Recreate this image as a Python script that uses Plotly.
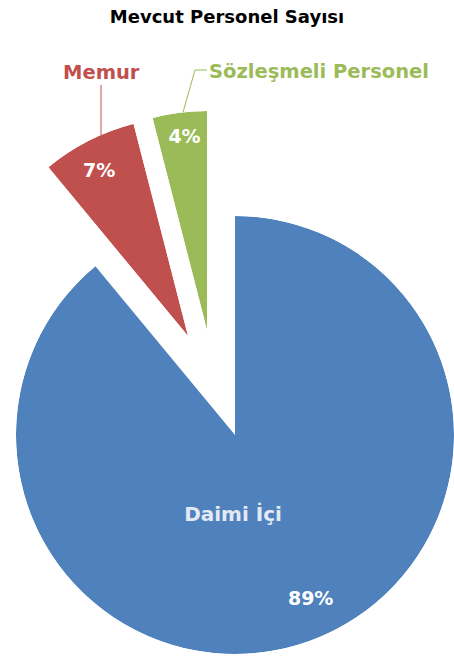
import math
import plotly.graph_objects as go

# ---------------- data ----------------
categories = ["Daimi İçi", "Memur", "Sözleşmeli Personel"]
values = [89, 7, 4]
colors = ["#4F81BD", "#C0504D", "#9BBB59"]
title_text = "Mevcut Personel Sayısı"

# ---------------- layout constants ----------------
W, H = 454, 659
R = 219                                      # slice radius in px
apex = [(235, 435), (188, 336), (207, 330)]  # exploded slice apex positions (px)
FONT = "DejaVu Sans"

total = sum(values)
spans = [v / total * 360.0 for v in values]
starts = [sum(spans[:i]) for i in range(len(values))]
mids = [s + w / 2 for s, w in zip(starts, spans)]
pct = [f"{round(v / total * 100)}%" for v in values]


def sector_bbox(s0, s1):
    """Same as plotly's computeSectorBBox (unit circle, y up)."""
    arc = s1 - s0
    a0 = s0 % 360
    a1 = a0 + arc
    ax0, ay0 = math.cos(math.radians(a0)), math.sin(math.radians(a0))
    ax1, ay1 = math.cos(math.radians(a1)), math.sin(math.radians(a1))
    if (a0 <= 90 and a1 >= 90) or (a0 > 90 and a1 >= 450):
        y1 = 1
    elif ay0 <= 0 and ay1 <= 0:
        y1 = 0
    else:
        y1 = max(ay0, ay1)
    if (a0 <= 180 and a1 >= 180) or (a0 > 180 and a1 >= 540):
        x0 = -1
    elif ax0 >= 0 and ax1 >= 0:
        x0 = 0
    else:
        x0 = min(ax0, ax1)
    if (a0 <= 270 and a1 >= 270) or (a0 > 270 and a1 >= 630):
        y0 = -1
    elif ay0 >= 0 and ay1 >= 0:
        y0 = 0
    else:
        y0 = min(ay0, ay1)
    if a1 >= 360:
        x1 = 1
    elif ax0 <= 0 and ax1 <= 0:
        x1 = 0
    else:
        x1 = max(ax0, ax1)
    return x0, y0, x1, y1


def clamp(v):
    return min(1.0, max(0.0, v))


def px(x, y):
    """pixel position -> paper coordinates"""
    return x / W, 1 - y / H


fig = go.Figure()
layout_polars = {}
names = []
for i in range(len(values)):
    name = "polar" if i == 0 else f"polar{i + 1}"
    names.append(name)
    if i == 0:
        sector = [0, 360]
    else:
        phi0 = (90 - (starts[i] + spans[i])) % 360
        sector = [phi0, phi0 + spans[i]]
    x0, y0, x1, y1 = sector_bbox(*sector)
    cx, cy = apex[i]
    left, right = cx + R * x0, cx + R * x1
    top, bottom = cy - R * y1, cy - R * y0
    layout_polars[name] = dict(
        domain=dict(x=[clamp(left / W), clamp(right / W)],
                    y=[clamp((H - bottom) / H), clamp((H - top) / H)]),
        sector=sector,
        bgcolor="rgba(0,0,0,0)",
        radialaxis=dict(visible=False, range=[0, 1]),
        angularaxis=dict(visible=False, rotation=90, direction="clockwise"),
    )
    fig.add_trace(go.Barpolar(
        r=[1], theta=[mids[i]], width=[spans[i]],
        marker=dict(color=colors[i], line=dict(width=0)),
        subplot=name, showlegend=False, name=categories[i],
        hovertemplate=f"{categories[i]}: {pct[i]}<extra></extra>",
    ))

# labels inside slices (r fraction, theta in degrees clockwise from top)
fig.add_trace(go.Scatterpolar(
    r=[0.37, 0.83], theta=[181.4, 155.4], mode="text",
    text=[categories[0], pct[0]], textposition="middle center",
    textfont=dict(family=FONT, size=[20, 19], color=["#E4EAF3", "#FFFFFF"], weight="bold"),
    subplot=names[0], showlegend=False, hoverinfo="skip", cliponaxis=False,
))
fig.add_trace(go.Scatterpolar(
    r=[0.85], theta=[331.5], mode="text", text=[pct[1]],
    textposition="middle center",
    textfont=dict(family=FONT, size=19, color="#FFFFFF", weight="bold"),
    subplot=names[1], showlegend=False, hoverinfo="skip", cliponaxis=False,
))
fig.add_trace(go.Scatterpolar(
    r=[0.88], theta=[353.3], mode="text", text=[pct[2]],
    textposition="middle center",
    textfont=dict(family=FONT, size=19, color="#FFFFFF", weight="bold"),
    subplot=names[2], showlegend=False, hoverinfo="skip", cliponaxis=False,
))


def arc_point_at_x(i, x):
    """point on slice i's outer arc with the given pixel x"""
    cx, cy = apex[i]
    s = (x - cx) / R
    return x, cy - R * math.sqrt(1 - s * s)


shapes = []
# Memur leader line (vertical)
hx, hy = arc_point_at_x(1, 101)
a = px(101, 85)
b = px(hx, hy)
shapes.append(dict(type="path", xref="paper", yref="paper",
                   path=f"M {a[0]} {a[1]} L {b[0]} {b[1]}",
                   line=dict(color=colors[1], width=1)))
# Sözleşmeli Personel leader line (short horizontal + diagonal)
hx, hy = arc_point_at_x(2, 183)
a = px(207, 70)
m = px(195, 70)
b = px(hx, hy)
shapes.append(dict(type="path", xref="paper", yref="paper",
                   path=f"M {a[0]} {a[1]} L {m[0]} {m[1]} L {b[0]} {b[1]}",
                   line=dict(color=colors[2], width=1)))

annotations = []
x, y = px(101, 72)
annotations.append(dict(
    x=x, y=y, xref="paper", yref="paper", xanchor="center", yanchor="middle",
    text=categories[1], showarrow=False,
    font=dict(family=FONT, size=19.5, color=colors[1], weight="bold"),
))
x, y = px(207, 71)
annotations.append(dict(
    x=x, y=y, xref="paper", yref="paper", xanchor="left", yanchor="middle",
    text=categories[2], showarrow=False,
    font=dict(family=FONT, size=19.5, color=colors[2], weight="bold"),
))

fig.update_layout(
    width=W, height=H,
    margin=dict(l=0, r=0, t=0, b=0),
    paper_bgcolor="white", plot_bgcolor="white",
    title=dict(text=title_text, x=0.5, xanchor="center", y=1 - 17 / H, yanchor="middle",
               font=dict(family=FONT, size=18, color="#000000", weight="bold")),
    annotations=annotations,
    shapes=shapes,
    showlegend=False,
    **layout_polars,
)

fig.write_html("out.html", config={"displayModeBar": False},
               post_script="document.body.style.margin='0px';")
